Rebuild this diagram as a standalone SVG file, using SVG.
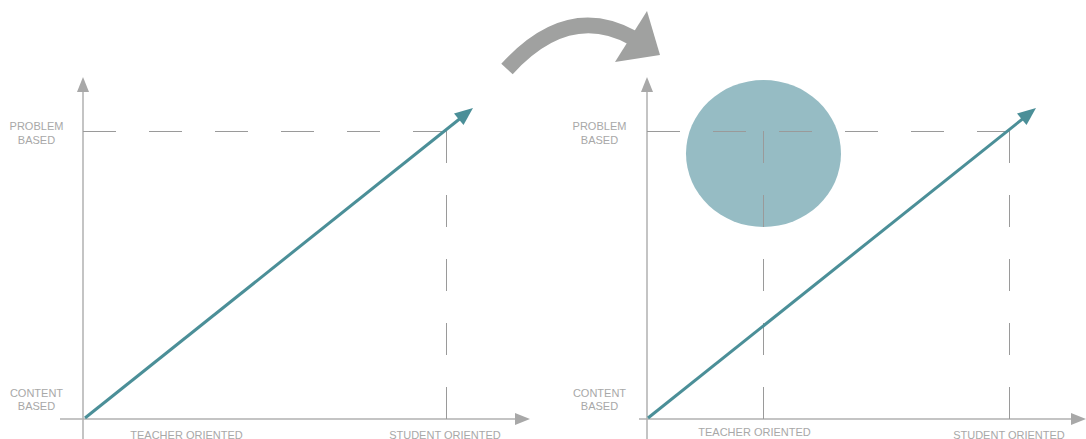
<svg xmlns="http://www.w3.org/2000/svg" width="1086" height="439" viewBox="0 0 1086 439">
<style>
.lbl{font-family:"Liberation Sans",Arial,sans-serif;font-size:11px;fill:#a8a8a8;text-anchor:middle}
.axis{stroke:#b0b0b0;stroke-width:1.5;fill:none}
.axhead{fill:#a8a8a8}
.dh{stroke:#9a9a9a;stroke-width:1;stroke-dasharray:33 33;fill:none}
.dv{stroke:#9a9a9a;stroke-width:1;stroke-dasharray:32 32;fill:none}
.trend{stroke:#4b8f98;stroke-width:3;fill:none}
.trendhead{fill:#4b8f98}
</style>
<rect width="1086" height="439" fill="#ffffff"/>
<g id="circle-node">
<ellipse cx="763.5" cy="153.5" rx="77.5" ry="73.5" fill="#96bcc4"/>
</g>
<g id="connectors">
<!-- left chart -->
<line class="axis" x1="83" y1="90" x2="83" y2="439"/>
<polygon class="axhead" points="83,77 89,92 77,92"/>
<line class="axis" x1="60" y1="419" x2="517" y2="419"/>
<polygon class="axhead" points="530,419 515,413 515,425"/>
<line class="dh" x1="83" y1="131.5" x2="446" y2="131.5"/>
<line class="dv" x1="446.5" y1="131" x2="446.5" y2="419"/>
<line class="trend" x1="85" y1="418" x2="462" y2="117"/>
<polygon class="trendhead" points="473,108 463.5,125 454,113.5"/>
<!-- right chart -->
<line class="axis" x1="647" y1="90" x2="647" y2="439"/>
<polygon class="axhead" points="647,77 653,92 641,92"/>
<line class="axis" x1="639" y1="419" x2="1073" y2="419"/>
<polygon class="axhead" points="1086,419 1071,413 1071,425"/>
<line class="dh" x1="647" y1="131.5" x2="1009" y2="131.5"/>
<line class="dv" x1="763.5" y1="131" x2="763.5" y2="419"/>
<line class="dv" x1="1009.5" y1="131" x2="1009.5" y2="419"/>
<line class="trend" x1="648" y1="418" x2="1025" y2="117"/>
<polygon class="trendhead" points="1036,108 1026.5,125 1017,113.5"/>
<!-- transition arrow -->
<path d="M507,69 Q568,2 633,38" stroke="#a0a1a0" stroke-width="15.5" fill="none"/>
<polygon points="647,11 660,55 615,62" fill="#a0a1a0"/>
</g>
<g id="labels-left">
<text class="lbl" x="36.5" y="130">PROBLEM</text>
<text class="lbl" x="36.5" y="143.5">BASED</text>
<text class="lbl" x="36.5" y="396.5">CONTENT</text>
<text class="lbl" x="36.5" y="409.5">BASED</text>
<text class="lbl" x="186.5" y="439">TEACHER ORIENTED</text>
<text class="lbl" x="445" y="439">STUDENT ORIENTED</text>
</g>
<g id="labels-right">
<text class="lbl" x="599.5" y="130">PROBLEM</text>
<text class="lbl" x="599.5" y="143.5">BASED</text>
<text class="lbl" x="599.5" y="396.5">CONTENT</text>
<text class="lbl" x="599.5" y="409.5">BASED</text>
<text class="lbl" x="754.5" y="436">TEACHER ORIENTED</text>
<text class="lbl" x="1009" y="439">STUDENT ORIENTED</text>
</g>
</svg>
